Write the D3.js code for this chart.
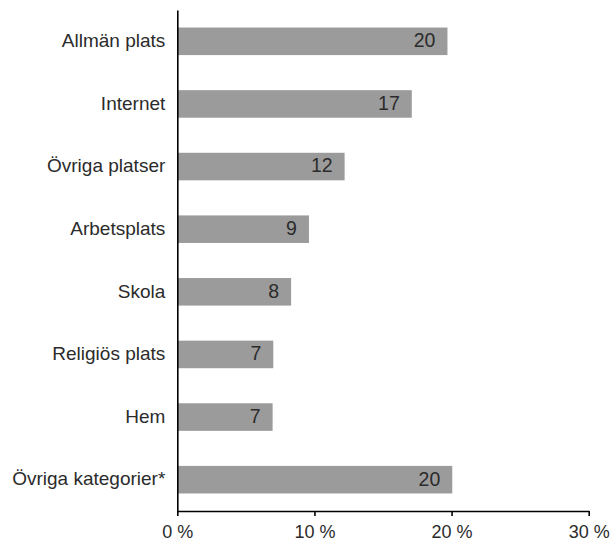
<!DOCTYPE html>
<html>
<head>
<meta charset="utf-8">
<script src="https://cdn.jsdelivr.net/npm/d3@7"></script>
<style>
  html, body { margin: 0; padding: 0; background: #fff; }
  svg text { font-family: "Liberation Sans", Arial, sans-serif; font-size: 19px; fill: #2b2b2b; }
</style>
</head>
<body>
<div id="chart"></div>
<script>
// categories, top to bottom
const categories = ['Allmän plats', 'Internet', 'Övriga platser', 'Arbetsplats', 'Skola', 'Religiös plats', 'Hem', 'Övriga kategorier*'];
// bar lengths in percent
const values = [19.7, 17.1, 12.2, 9.6, 8.3, 7.0, 6.95, 20.05];
// the numbers printed inside the bars
const valueLabels = ['20', '17', '12', '9', '8', '7', '7', '20'];
const xTicks = [0, 10, 20, 30];

const width = 611, height = 542;

const svg = d3.select('#chart').append('svg')
  .attr('width', width)
  .attr('height', height);

const x = d3.scaleLinear().domain([0, 30]).range([177.3, 588.7]);
const y = d3.scaleBand().domain(categories).range([10, 511])
  .paddingInner(0.56).paddingOuter(0.28);

// bars
svg.append('g')
  .selectAll('rect')
  .data(values)
  .enter()
  .append('rect')
  .attr('x', x(0))
  .attr('y', (d, i) => y(categories[i]))
  .attr('width', d => x(d) - x(0))
  .attr('height', y.bandwidth())
  .attr('fill', '#9b9b9b');

// labels inside the bars
svg.append('g')
  .selectAll('text')
  .data(values)
  .enter()
  .append('text')
  .attr('x', d => x(d) - 12)
  .attr('y', (d, i) => y(categories[i]) + y.bandwidth() / 2)
  .attr('dy', '0.3em')
  .attr('text-anchor', 'end')
  .style('font-size', '19.5px')
  .text((d, i) => valueLabels[i]);

// y axis
const yAxis = svg.append('g')
  .attr('transform', 'translate(' + x(0) + ',0)')
  .call(d3.axisLeft(y).tickSize(0).tickPadding(12));
yAxis.select('.domain').attr('stroke', '#000').attr('stroke-width', 1.6);
yAxis.selectAll('text').attr('dy', '0.3em').style('font-size', '19px');

// x axis
const xAxis = svg.append('g')
  .attr('transform', 'translate(0,511)')
  .call(d3.axisBottom(x).tickValues(xTicks).tickSize(5).tickSizeOuter(0).tickPadding(9)
    .tickFormat(d => d + ' %'));
xAxis.select('.domain').attr('stroke', '#000').attr('stroke-width', 1.6);
xAxis.selectAll('.tick line').attr('stroke', '#000').attr('stroke-width', 1.6);
xAxis.selectAll('text').style('font-size', '18px');
</script>
</body>
</html>
